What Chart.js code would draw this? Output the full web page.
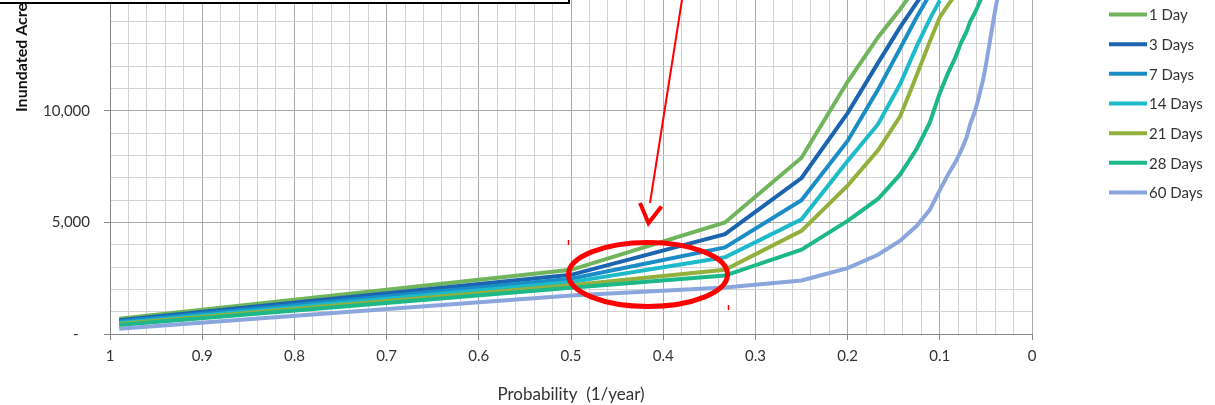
<!DOCTYPE html>
<html>
<head>
<meta charset="utf-8">
<title>Inundated Acres vs Probability</title>
<script src="https://cdn.jsdelivr.net/npm/chart.js@4/dist/chart.umd.min.js"></script>
<style>
    html, body { margin: 0; padding: 0; background: #fff; overflow: hidden; }
    #wrap { position: relative; width: 1215px; height: 405px; overflow: hidden; }
    /* canvas is taller than the window, its top part sits above the view */
    #chart { position: absolute; left: 0; top: -60px; }
</style>
</head>
<body>
<div id="wrap">
    <canvas id="chart" width="1215" height="465"></canvas>
</div>
<script>
// Annual exceedance probability (1/year) of each computed point
const probability = [0.99, 0.5, 0.333, 0.25, 0.2, 0.167, 0.143, 0.125, 0.111, 0.1, 0.091,
    0.083, 0.077, 0.071, 0.067, 0.0625, 0.059, 0.056, 0.053, 0.05, 0.04, 0.033];

// Inundated acres for each flood duration
const acres1Day = [680, 2875, 5000, 7900, 11300, 13300, 14550, 15600];
const acres3Days = [620, 2650, 4475, 6990, 9900, 12150, 13750, 14850, 15700];
const acres7Days = [555, 2475, 3880, 5990, 8650, 10950, 12800, 14200, 15200];
const acres14Days = [490, 2325, 3435, 5140, 7750, 9400, 11200, 12900, 14100, 14950];
const acres21Days = [445, 2180, 2875, 4620, 6650, 8230, 9750, 11600, 13090, 14200, 14750, 15200];
const acres28Days = [400, 2075, 2620, 3780, 5070, 6050, 7150, 8300, 9460, 10800, 11700, 12400,
    13050, 13550, 14000, 14350, 14650, 14950, 15200];
const acres60Days = [235, 1730, 2080, 2400, 2950, 3550, 4180, 4850, 5550, 6450, 7150, 7700,
    8200, 8800, 9400, 9900, 10400, 10900, 11400, 12050, 14500, 16000];

const seriesNames = ['1 Day', '3 Days', '7 Days', '14 Days', '21 Days', '28 Days', '60 Days'];
const seriesValues = [acres1Day, acres3Days, acres7Days, acres14Days, acres21Days, acres28Days, acres60Days];
const seriesColors = ['#70b55b', '#1a64b0', '#1a8cc6', '#1dbac9', '#93b03c', '#1cb88a', '#8aa6dc'];

// x ticks every 0.02, labels every 0.1; y ticks every 1,000, labels every 5,000
const xTickCount = 50;
const yTickStep = 1000;
const yLabelStep = 5000;
const yMax = 17000;

const SHIFT = 60; // canvas rows hidden above the window

Chart.defaults.font.family = 'Lato';
Chart.defaults.color = '#333';

// Build {x, y} points for one series
function toPoints(values) {
    return values.map((v, i) => ({ x: probability[i], y: v }));
}

function isYLabel(value) {
    return value % yLabelStep === 0 && value <= 10000;
}

// Legend, axis title and the hand drawn markup over the plot
const overlayPlugin = {
    id: 'overlay',
    afterDraw(chart) {
        const ctx = chart.ctx;
        ctx.save();

        // y axis title
        ctx.save();
        ctx.translate(22, 112 + SHIFT);
        ctx.rotate(-Math.PI / 2);
        ctx.font = 'bold 16px Lato';
        ctx.fillStyle = '#111';
        ctx.textAlign = 'left';
        ctx.textBaseline = 'middle';
        ctx.fillText('Inundated Acres', 0, 0);
        ctx.restore();

        // text box at the top left
        ctx.fillStyle = '#fff';
        ctx.fillRect(0, 0, 569, 3 + SHIFT);
        ctx.strokeStyle = '#000';
        ctx.lineWidth = 2;
        ctx.strokeRect(-2, -2, 571, 5 + SHIFT);

        // legend
        ctx.font = '15px Lato';
        ctx.textAlign = 'left';
        ctx.textBaseline = 'middle';
        seriesNames.forEach((name, i) => {
            const y = 14.5 + i * 29.67 + SHIFT;
            ctx.strokeStyle = seriesColors[i];
            ctx.lineWidth = 4;
            ctx.beginPath();
            ctx.moveTo(1109, y);
            ctx.lineTo(1147, y);
            ctx.stroke();
            ctx.fillStyle = '#333';
            ctx.fillText(name, 1149, y + 1);
        });

        // red arrow and ellipse
        ctx.strokeStyle = '#ff0000';
        ctx.lineCap = 'butt';
        ctx.lineWidth = 2;
        ctx.beginPath();
        ctx.moveTo(691.4, 0);
        ctx.lineTo(650, 203 + SHIFT);
        ctx.stroke();

        ctx.lineWidth = 4;
        ctx.lineJoin = 'miter';
        ctx.beginPath();
        ctx.moveTo(640, 203 + SHIFT);
        ctx.lineTo(648.5, 223 + SHIFT);
        ctx.lineTo(661.5, 206.5 + SHIFT);
        ctx.stroke();

        ctx.lineWidth = 5;
        ctx.beginPath();
        ctx.ellipse(648, 274.5 + SHIFT, 79.5, 32, 0, 0, Math.PI * 2);
        ctx.stroke();

        ctx.lineWidth = 1.5;
        ctx.beginPath();
        ctx.moveTo(568.5, 240 + SHIFT);
        ctx.lineTo(568.5, 245 + SHIFT);
        ctx.moveTo(728.5, 305 + SHIFT);
        ctx.lineTo(728.5, 310 + SHIFT);
        ctx.stroke();

        ctx.restore();
    }
};

const datasets = seriesNames.map((name, i) => ({
    label: name,
    data: toPoints(seriesValues[i]),
    borderColor: seriesColors[i],
    backgroundColor: seriesColors[i],
    borderWidth: 4,
    pointRadius: 0,
    fill: false,
    tension: 0,
    order: seriesNames.length - i
}));

const ctx = document.getElementById('chart').getContext('2d');
const acresChart = new Chart(ctx, {
    type: 'line',
    data: { datasets: datasets },
    options: {
        responsive: false,
        animation: false,
        devicePixelRatio: 1,
        layout: {
            padding: { top: 12, left: 0, right: 183, bottom: 0 }
        },
        plugins: {
            legend: { display: false },
            tooltip: { enabled: false }
        },
        scales: {
            x: {
                type: 'linear',
                reverse: true,
                min: 0,
                max: 1,
                afterBuildTicks: function(scale) {
                    const ticks = [];
                    for (let i = 0; i <= xTickCount; i++) ticks.push({ value: i / xTickCount });
                    scale.ticks = ticks;
                },
                afterFit: function(scale) { scale.height = 465 - (334 + SHIFT); },
                grid: {
                    color: c => (c.index % 5 === 0 ? '#a9a9a9' : '#d2d2d2'),
                    tickColor: c => (c.index % 5 === 0 ? '#868686' : 'rgba(0,0,0,0)'),
                    tickLength: 6
                },
                border: { color: '#868686' },
                ticks: {
                    autoSkip: false,
                    maxRotation: 0,
                    minRotation: 0,
                    padding: 7,
                    font: { size: 15 },
                    color: '#333',
                    callback: (value, index) => (index % 5 === 0 ? String(Math.round(value * 10) / 10) : '')
                },
                title: {
                    display: true,
                    text: 'Probability  (1/year)',
                    font: { size: 17 },
                    color: '#333',
                    padding: { top: 0, bottom: 0 }
                }
            },
            y: {
                min: 0,
                max: yMax,
                afterBuildTicks: function(scale) {
                    const ticks = [];
                    for (let v = 0; v <= yMax; v += yTickStep) ticks.push({ value: v });
                    scale.ticks = ticks;
                },
                afterFit: function(scale) { scale.width = 110; },
                grid: {
                    color: c => (c.tick.value % yLabelStep === 0 ? '#a9a9a9' : '#d2d2d2'),
                    tickColor: c => (c.tick.value % yLabelStep === 0 ? '#868686' : 'rgba(0,0,0,0)'),
                    tickLength: 6
                },
                border: { color: '#868686' },
                ticks: {
                    autoSkip: false,
                    padding: 14,
                    // unlabelled ticks get a tiny font so they add no room above the plot
                    font: c => ({ size: c.tick && isYLabel(c.tick.value) ? 15 : 1 }),
                    color: '#333',
                    callback: value => {
                        if (!isYLabel(value)) return '';
                        return value === 0 ? '-   ' : value.toLocaleString('en-US');
                    }
                }
            }
        }
    },
    plugins: [overlayPlugin]
});
</script>
</body>
</html>
